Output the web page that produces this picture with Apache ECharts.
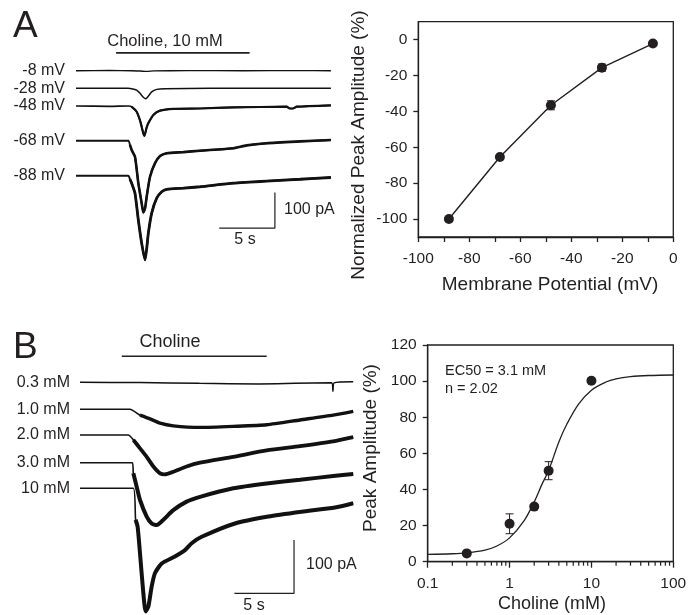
<!DOCTYPE html>
<html>
<head>
<meta charset="utf-8">
<script src="https://cdn.jsdelivr.net/npm/echarts@6/dist/echarts.min.js"></script>
<style>
  html, body { margin: 0; padding: 0; background: #fff; }
  #c { width: 696px; height: 615px; }
</style>
</head>
<body>
<div id="c"></div>
<script>
const FONT = "'Liberation Sans', Arial, Helvetica, sans-serif";
const INK = '#231f20';

// ---- Panel A (right): normalized peak amplitude vs holding potential ----
const ivPotential = [-88, -68, -48, -28, -8];
const ivAmplitude = [-100, -65.4, -36.6, -15.6, -2.2];
const ivSem = [0.8, 0.8, 2.5, 2, 0.8];
const ivXLabels = [-100, -80, -60, -40, -20, 0];
const ivYLabels = [-100, -80, -60, -40, -20, 0];

// ---- Panel B (right): concentration-response ----
const doseConc = [0.3, 1, 2, 3, 10];
const doseAmp = [4.6, 21, 30.5, 50.4, 100.2];
const doseSem = [0.5, 5.5, 1, 5, 0.5];
const fitConc = [0.1, 0.2, 0.3, 0.5, 0.7, 1, 1.5, 2, 2.5, 3, 4, 5, 7, 10, 15, 20, 30, 50, 100];
const fitAmp = [4.1, 4.4, 4.9, 6.4, 8.7, 13.2, 22.6, 33.1, 43.1, 50.5, 66.3, 76.1, 87.4, 95.0, 99.5, 101.3, 102.5, 103.1, 103.4];
const doseMinorTicks = [0.2, 0.3, 0.4, 0.5, 0.6, 0.7, 0.8, 0.9, 2, 3, 4, 5, 6, 7, 8, 9, 20, 30, 40, 50, 60, 70, 80, 90];

// ---- Current traces: [time (s), current (pA)] ----
const voltLabels = ['-8 mV', '-28 mV', '-48 mV', '-68 mV', '-88 mV'];
const traceVm8 = [[0,0],[3,0.5],[5,0],[5.8,-1],[6.35,-2],[7,-0.5],[10,0.3],[15,0],[20,0.3],[22.9,0]];
const traceVm28 = [[0,0],[4.7,0],[5.0,-1],[5.45,-5],[5.75,-14],[6.05,-25],[6.26,-29],[6.5,-22],[6.8,-10],[7.25,-3],[8,-1],[12,0],[17,0],[22.9,0]];
const traceVm48 = [[0,0],[3,-1],[4.7,0],[5.0,-2],[5.45,-16],[5.75,-40],[5.9,-58],[6.05,-77],[6.14,-84],[6.35,-60],[6.5,-48],[6.95,-25],[7.55,-13],[8.74,-8],[11.14,-7],[14.14,-4],[18.93,-2],[19.2,-7],[19.5,-7],[19.83,-2],[22.9,2]];
const traceVm68 = [[0,0],[4.7,0],[4.85,-12],[5.0,-26],[5.3,-45],[5.6,-119],[5.9,-175],[6.05,-201],[6.2,-190],[6.35,-157],[6.65,-101],[7.1,-63],[7.55,-43],[8.15,-35],[9.64,-32],[11.14,-28],[14.14,-21],[15.33,-13],[17.13,-7],[20.13,-2],[22.9,2]];
const traceVm88 = [[0,0],[4.7,0],[4.85,-10],[5.0,-21],[5.3,-49],[5.6,-124],[5.9,-189],[6.2,-236],[6.35,-205],[6.5,-161],[6.8,-105],[7.25,-63],[7.7,-45],[8.15,-38],[9.64,-35],[11.14,-31],[14.14,-21],[17.13,-15],[20.13,-10],[22.9,-5]];

const concLabels = ['0.3 mM', '1.0 mM', '2.0 mM', '3.0 mM', '10 mM'];
const traceC03 = [[0,0],[5,-0.5],[10,-2],[15,-3],[18,-2],[21.1,-1],[21.2,-17],[21.3,-1],[22.9,1]];
const traceC1 = [[0,0],[4.19,0],[5.03,-11],[5.87,-18],[6.71,-26],[7.82,-31],[10.06,-34],[12.85,-32],[15.65,-29],[18.44,-20],[21.23,-11],[22.9,-4]];
const traceC2 = [[0,0],[4.05,0],[4.47,-9],[5.03,-25],[5.59,-41],[6.15,-59],[6.71,-72],[7.1,-74],[7.82,-69],[8.94,-59],[10.06,-52],[12.85,-41],[15.65,-29],[18.44,-21],[21.23,-12],[22.9,-4]];
const traceC3 = [[0,0],[4.39,0],[4.47,-20],[4.75,-45],[5.03,-70],[5.59,-101],[6.01,-114],[6.43,-117],[6.99,-107],[7.82,-89],[8.94,-73],[10.06,-64],[12.85,-48],[15.65,-39],[18.44,-32],[21.23,-25],[22.9,-21]];
const traceC10 = [[0,0],[4.47,0],[4.66,-59],[4.83,-72],[5.03,-122],[5.31,-197],[5.5,-231],[5.73,-222],[6.01,-184],[6.29,-159],[6.85,-141],[7.96,-128],[8.8,-116],[9.36,-103],[10.2,-91],[12.99,-66],[15.79,-53],[18.58,-44],[21.37,-36],[22.9,-28]];

// Choline application (s) and calibration bars (5 s, 100 pA)
const cholineA = [3.6, 15.6];
const cholineB = [3.5, 15.65];
const calTime = 5, calCurrent = 100;

// ---- layout of the trace stacks ----
const T_SPAN = 22.9, PA_UP = 60, PA_DOWN = 260;
const stackA = { left: 76, pxPerSec: 11.13, pxPerPA: 0.357, baselines: [70.7, 88.3, 106, 140.7, 175.7],
  traces: [traceVm8, traceVm28, traceVm48, traceVm68, traceVm88], labels: voltLabels, labelRight: 65,
  widths: [1.4, 1.5, 1.7, 1.9, 2.0], bold: [0, 0, 2.2, 2.6, 2.8],
  choline: cholineA, cholinePA: 50, calStart: 12.87, calPA: -147 };
const stackB = { left: 80, pxPerSec: 11.93, pxPerPA: 0.533, baselines: [382.3, 409.3, 435, 462.7, 488.3],
  traces: [traceC03, traceC1, traceC2, traceC3, traceC10], labels: concLabels, labelRight: 70,
  widths: [1.5, 1.6, 1.6, 1.6, 1.6], bold: [0, 3.4, 3.8, 4.0, 4.0],
  choline: cholineB, cholinePA: 49, calStart: 12.94, calPA: -197 };

const grids = [], xAxes = [], yAxes = [], series = [], graphics = [];

const axisFont = { fontFamily: FONT, fontSize: 15.5, color: INK };
const lineSty = { color: INK, width: 1.3 };

// grid 0: I-V plot
grids.push({ left: 418.3, top: 21.7, width: 255, height: 215.3, show: true, borderColor: INK, borderWidth: 1.3, outerBoundsMode: 'none' });
xAxes.push({ gridIndex: 0, type: 'value', min: -100, max: 0, interval: 10,
  axisLine: { onZero: false, lineStyle: lineSty }, axisTick: { length: 5, lineStyle: lineSty },
  axisLabel: Object.assign({ margin: 14, customValues: ivXLabels }, axisFont),
  splitLine: { show: false } });
yAxes.push({ gridIndex: 0, type: 'value', min: -110, max: 10,
  axisLine: { onZero: false, lineStyle: lineSty }, axisTick: { length: 5, lineStyle: lineSty, customValues: ivYLabels },
  axisLabel: Object.assign({ margin: 11, customValues: ivYLabels }, axisFont),
  splitLine: { show: false } });

// grid 1: concentration-response plot
grids.push({ left: 427.7, top: 345, width: 245.6, height: 216.7, show: true, borderColor: INK, borderWidth: 1.3, outerBoundsMode: 'none' });
xAxes.push({ gridIndex: 1, type: 'log', logBase: 10, min: 0.1, max: 100,
  axisLine: { onZero: false, lineStyle: lineSty }, axisTick: { length: 6, lineStyle: lineSty },
  axisLabel: Object.assign({ margin: 14 }, axisFont),
  splitLine: { show: false } });
yAxes.push({ gridIndex: 1, type: 'value', min: 0, max: 120, interval: 20,
  axisLine: { onZero: false, lineStyle: lineSty }, axisTick: { length: 5, lineStyle: lineSty },
  axisLabel: Object.assign({ margin: 11 }, axisFont),
  splitLine: { show: false } });

function errorBars(params, api) {
  const x = api.value(0), y = api.value(1), e = api.value(2);
  const hi = api.coord([x, y + e]), lo = api.coord([x, y - e]);
  const hw = 4, st = { stroke: INK, lineWidth: 1 };
  return { type: 'group', children: [
    { type: 'line', shape: { x1: hi[0], y1: hi[1], x2: lo[0], y2: lo[1] }, style: st },
    { type: 'line', shape: { x1: hi[0] - hw, y1: hi[1], x2: hi[0] + hw, y2: hi[1] }, style: st },
    { type: 'line', shape: { x1: lo[0] - hw, y1: lo[1], x2: lo[0] + hw, y2: lo[1] }, style: st }
  ] };
}
// short minor ticks of the logarithmic concentration axis
function minorTick(params, api) {
  const p = api.coord([api.value(0), 0]);
  return { type: 'line', shape: { x1: p[0], y1: p[1], x2: p[0], y2: p[1] + 4 }, style: { stroke: INK, lineWidth: 1.2 } };
}

series.push({ type: 'custom', xAxisIndex: 0, yAxisIndex: 0, renderItem: errorBars, z: 2,
  data: ivPotential.map((v, i) => [v, ivAmplitude[i], ivSem[i]]) });
series.push({ type: 'line', xAxisIndex: 0, yAxisIndex: 0, z: 3,
  data: ivPotential.map((v, i) => [v, ivAmplitude[i]]),
  symbol: 'circle', symbolSize: 10, itemStyle: { color: INK, opacity: 1 }, lineStyle: { color: INK, width: 1.4 } });

series.push({ type: 'line', xAxisIndex: 1, yAxisIndex: 1, z: 2, smooth: 0.35, showSymbol: false,
  data: fitConc.map((c, i) => [c, fitAmp[i]]), lineStyle: { color: INK, width: 1.3 } });
series.push({ type: 'custom', xAxisIndex: 1, yAxisIndex: 1, renderItem: errorBars, z: 2,
  data: doseConc.map((c, i) => [c, doseAmp[i], doseSem[i]]) });
series.push({ type: 'scatter', xAxisIndex: 1, yAxisIndex: 1, z: 3,
  data: doseConc.map((c, i) => [c, doseAmp[i]]), symbolSize: 10, itemStyle: { color: INK, opacity: 1 } });
series.push({ type: 'custom', xAxisIndex: 1, yAxisIndex: 1, renderItem: minorTick, clip: false, z: 4,
  data: doseMinorTicks.map(v => [v, 0]) });

// trace stacks: one hidden grid per trace sharing time / current scales
function addStack(S) {
  S.traces.forEach((tr, i) => {
    const g = grids.length;
    grids.push({ left: S.left, top: S.baselines[i] - PA_UP * S.pxPerPA,
      width: T_SPAN * S.pxPerSec, height: (PA_UP + PA_DOWN) * S.pxPerPA, show: false, outerBoundsMode: 'none' });
    const xi = xAxes.length, yi = yAxes.length;
    xAxes.push({ gridIndex: g, type: 'value', min: 0, max: T_SPAN, show: false });
    yAxes.push({ gridIndex: g, type: 'value', min: -PA_DOWN, max: PA_UP, show: false });
    series.push({ type: 'line', xAxisIndex: xi, yAxisIndex: yi, data: tr, showSymbol: false, smooth: 0.2,
      clip: false, lineStyle: { color: '#111', width: S.widths[i] } });
    if (S.bold[i]) {
      const onset = tr.findIndex(p => p[1] !== 0 && p[0] > 3);
      series.push({ type: 'line', xAxisIndex: xi, yAxisIndex: yi, data: tr.slice(onset), showSymbol: false,
        smooth: 0.2, clip: false, lineStyle: { color: '#111', width: S.bold[i] } });
    }
    graphics.push({ type: 'text', x: S.labelRight, y: S.baselines[i],
      style: { text: S.labels[i], font: '16px ' + FONT, fill: INK, align: 'right', verticalAlign: 'middle' } });
    if (i === 0) {
      series.push({ type: 'line', xAxisIndex: xi, yAxisIndex: yi, showSymbol: false, clip: false,
        data: [[S.choline[0], S.cholinePA], [S.choline[1], S.cholinePA]], lineStyle: { color: INK, width: 1.6 } });
    }
    if (i === S.traces.length - 1) {
      const t1 = S.calStart + calTime;
      series.push({ type: 'line', xAxisIndex: xi, yAxisIndex: yi, showSymbol: false, clip: false,
        data: [[S.calStart, S.calPA], [t1, S.calPA], [t1, S.calPA + calCurrent]], lineStyle: { color: INK, width: 1.2 } });
    }
  });
}
addStack(stackA);
addStack(stackB);

// panel letters, axis titles and annotations
const txt = (x, y, s, size, align, rot) => ({ type: 'text', x: x, y: y, rotation: rot || 0,
  style: { text: s, font: size + 'px ' + FONT, fill: INK, align: align || 'left', verticalAlign: 'middle' } });
graphics.push(txt(13, 27, 'A', 37));
graphics.push(txt(13, 348, 'B', 37));
graphics.push(txt(165, 41, 'Choline, 10 mM', 16.5, 'center'));
graphics.push(txt(170, 342, 'Choline', 18, 'center'));
graphics.push(txt(284, 210, '100 pA', 16));
graphics.push(txt(245, 240, '5 s', 16, 'center'));
graphics.push(txt(306, 565, '100 pA', 16));
graphics.push(txt(254, 606, '5 s', 16, 'center'));
graphics.push(txt(445, 371, 'EC50 = 3.1 mM', 14.5));
graphics.push(txt(445, 389, 'n = 2.02', 14.5));
graphics.push(txt(550, 285, 'Membrane Potential (mV)', 19, 'center'));
graphics.push(txt(552, 604, 'Choline (mM)', 18, 'center'));
graphics.push(txt(359, 145, 'Normalized Peak Amplitude (%)', 19, 'center', Math.PI / 2));
graphics.push(txt(371, 448, 'Peak Amplitude (%)', 19, 'center', Math.PI / 2));

const chart = echarts.init(document.getElementById('c'), null, { renderer: 'canvas' });
chart.setOption({
  animation: false,
  backgroundColor: '#fff',
  textStyle: { fontFamily: FONT },
  grid: grids, xAxis: xAxes, yAxis: yAxes, series: series, graphic: graphics
});
</script>
</body>
</html>
